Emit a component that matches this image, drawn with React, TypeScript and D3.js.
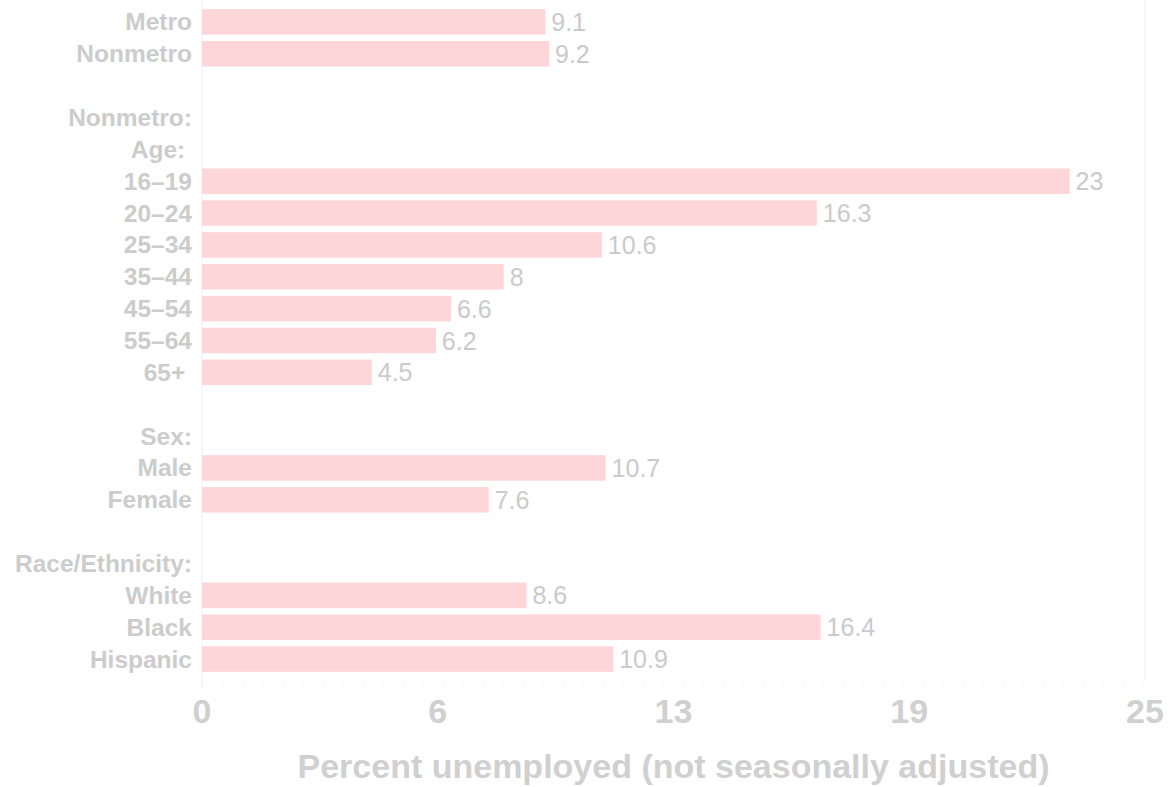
import * as d3 from "d3";
import React from "react";

// rows, top to bottom ("" = spacer row, null value = header row without bar)
const labels = [
  "Metro",
  "Nonmetro",
  "",
  "Nonmetro:",
  "Age: ",
  "16–19",
  "20–24",
  "25–34",
  "35–44",
  "45–54",
  "55–64",
  "65+ ",
  "",
  "Sex:",
  "Male",
  "Female",
  "",
  "Race/Ethnicity:",
  "White",
  "Black",
  "Hispanic",
];

const values: (number | null)[] = [
  9.1, 9.2, null, null, null, 23, 16.3, 10.6, 8, 6.6, 6.2, 4.5, null, null,
  10.7, 7.6, null, null, 8.6, 16.4, 10.9,
];

const tickValues = [0, 6.25, 12.5, 18.75, 25];
const axisTitle = "Percent unemployed (not seasonally adjusted)";

export default function App() {
  const chartRef = React.useRef<HTMLDivElement>(null);

  React.useEffect(() => {
    if (!chartRef.current) return;
    document.body.style.margin = "0";

    const width = 1174;
    const height = 787;
    const margin = { top: 6, right: 29, bottom: 112, left: 202 };

    const svg = d3
      .select(chartRef.current)
      .append("svg")
      .attr("width", width)
      .attr("height", height)
      .style("display", "block")
      .style("font-family", "'Liberation Sans', Arial, Helvetica, sans-serif");

    const x = d3
      .scaleLinear()
      .domain([0, 25])
      .range([margin.left, width - margin.right]);

    const y = d3
      .scaleBand<number>()
      .domain(labels.map((_, i) => i))
      .range([margin.top, height - margin.bottom])
      .paddingInner(0.2)
      .paddingOuter(0.1);

    // faint frame
    const frame = "#f0f0f0";
    svg
      .append("line")
      .attr("x1", x(0))
      .attr("x2", x(0))
      .attr("y1", 0)
      .attr("y2", 690)
      .attr("stroke", frame);
    svg
      .append("line")
      .attr("x1", x(25))
      .attr("x2", x(25))
      .attr("y1", 0)
      .attr("y2", 680)
      .attr("stroke", frame);
    svg
      .append("line")
      .attr("x1", x(0))
      .attr("x2", x(25))
      .attr("y1", 683)
      .attr("y2", 683)
      .attr("stroke", "#ececec")
      .attr("stroke-dasharray", "2,18");

    const rows = labels.map((label, i) => ({ label, value: values[i], i }));

    // bars
    svg
      .selectAll("rect.bar")
      .data(rows.filter((d) => d.value != null))
      .enter()
      .append("rect")
      .attr("class", "bar")
      .attr("x", x(0))
      .attr("y", (d) => y(d.i) || 0)
      .attr("width", (d) => x(d.value as number) - x(0))
      .attr("height", y.bandwidth())
      .attr("fill", "#ffd6d8");

    // value labels
    svg
      .selectAll("text.value")
      .data(rows.filter((d) => d.value != null))
      .enter()
      .append("text")
      .attr("class", "value")
      .attr("x", (d) => x(d.value as number) + 6)
      .attr("y", (d) => (y(d.i) || 0) + y.bandwidth() / 2)
      .attr("dominant-baseline", "central")
      .attr("font-size", 25)
      .attr("fill", "#cacaca")
      .text((d) => String(d.value));

    // category labels
    svg
      .selectAll("text.cat")
      .data(rows.filter((d) => d.label !== ""))
      .enter()
      .append("text")
      .attr("class", "cat")
      .attr("x", x(0) - 10)
      .attr("y", (d) => (y(d.i) || 0) + y.bandwidth() / 2)
      .attr("text-anchor", "end")
      .attr("dominant-baseline", "central")
      .attr("font-size", 24.5)
      .attr("font-weight", "bold")
      .attr("fill", "#cccccc")
      .style("white-space", "pre")
      .text((d) => d.label);

    // x tick labels
    svg
      .selectAll("text.tick")
      .data(tickValues)
      .enter()
      .append("text")
      .attr("class", "tick")
      .attr("x", (d) => x(d))
      .attr("y", 711)
      .attr("text-anchor", "middle")
      .attr("dominant-baseline", "central")
      .attr("font-size", 34)
      .attr("font-weight", "bold")
      .attr("fill", "#d0d0d0")
      .text((d) => d.toFixed(0));

    // axis title
    svg
      .append("text")
      .attr("x", (x(0) + x(25)) / 2)
      .attr("y", 766)
      .attr("text-anchor", "middle")
      .attr("dominant-baseline", "central")
      .attr("font-size", 34)
      .attr("font-weight", "bold")
      .attr("fill", "#d0d0d0")
      .text(axisTitle);

    return () => {
      d3.select(chartRef.current).selectAll("*").remove();
    };
  }, []);

  return <div ref={chartRef} />;
}
